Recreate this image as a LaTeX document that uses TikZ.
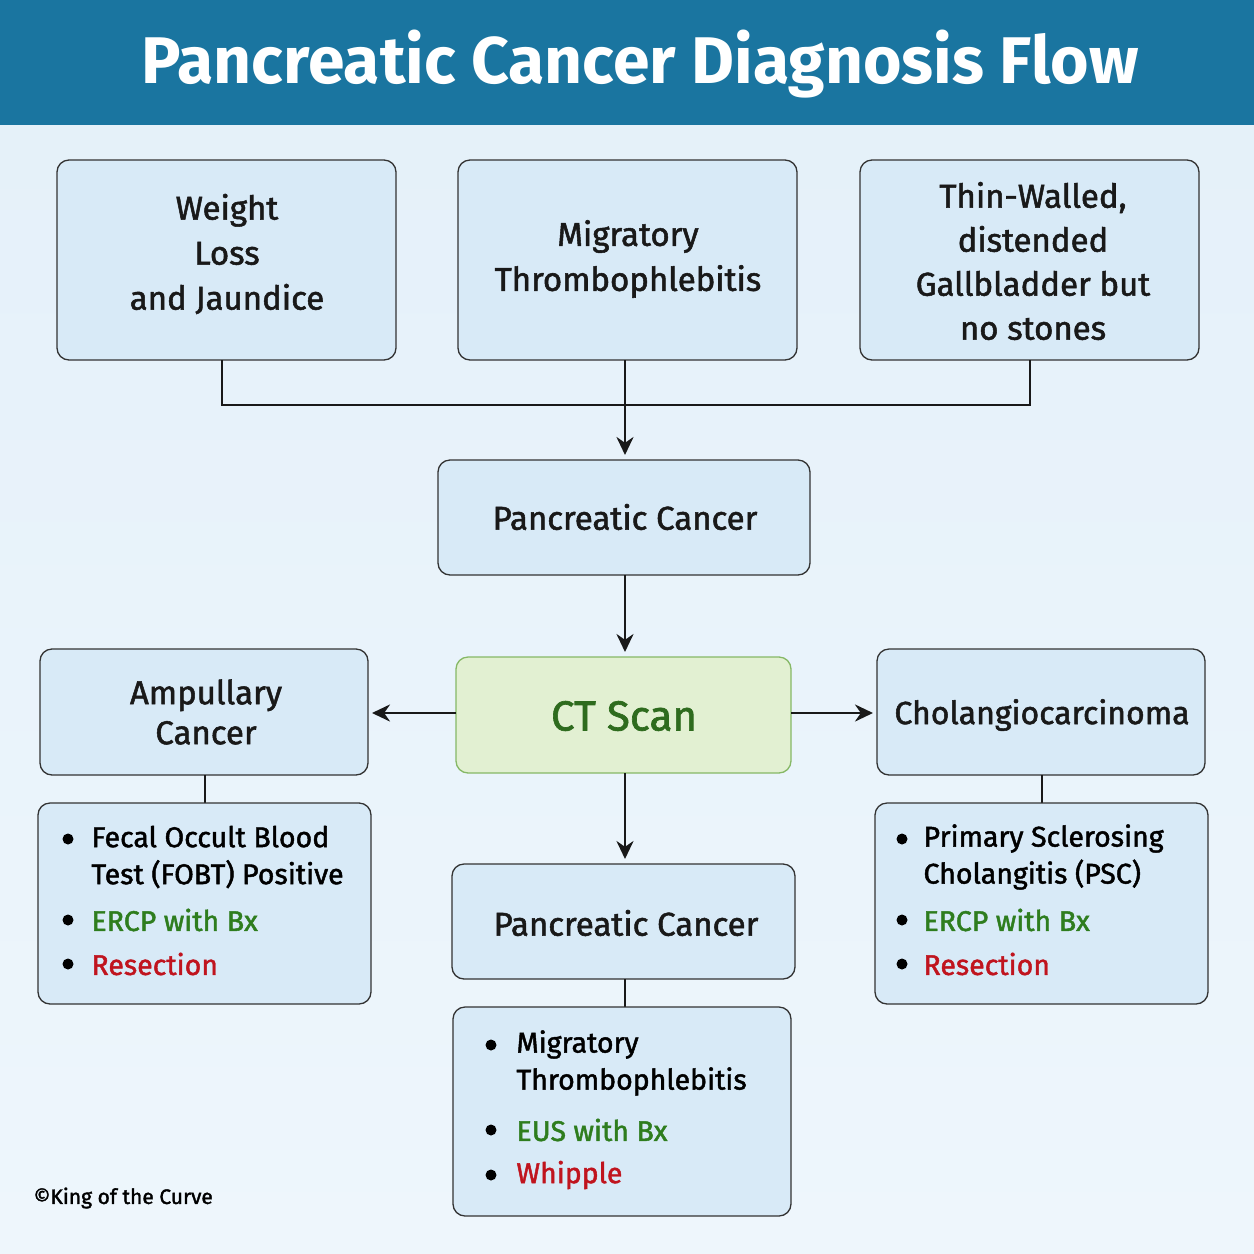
\documentclass[tikz,border=0pt]{standalone}
\usepackage{fontspec}
\setmainfont{Fira Sans}[UprightFeatures={FakeBold=1.6}]
\usetikzlibrary{arrows.meta}
\definecolor{bgA}{HTML}{E4F0F9}
\definecolor{bgB}{HTML}{EEF6FC}
\definecolor{bar}{HTML}{1A75A0}
\definecolor{boxf}{HTML}{D8EAF7}
\definecolor{ctf}{HTML}{E2F0D2}
\definecolor{ctb}{HTML}{86B866}
\definecolor{ctt}{HTML}{2E6B1E}
\definecolor{gtxt}{HTML}{2E7D1E}
\definecolor{rtxt}{HTML}{C0141E}
\begin{document}
\begin{tikzpicture}[x=1pt,y=-1pt,
  box/.style={draw=black!80,line width=1.3pt,fill=boxf,rounded corners=12pt},
  btxt/.style={align=center,font=\fontsize{33}{45}\selectfont,text=black!90},
  ltxt/.style={anchor=west,align=left,font=\fontsize{28.5}{37}\selectfont},
  conn/.style={line width=2.8pt,black!90},
  arr/.style={conn,-{Stealth[length=18pt,width=17pt]}}]
\useasboundingbox (0,0) rectangle (1254,1254);
\shade[top color=bgA,bottom color=bgB] (0,0) rectangle (1254,1254);
\fill[bar] (0,0) rectangle (1254,125);
\node[font=\fontsize{66}{76}\selectfont\bfseries,text=white] (title) at (640,64) {Pancreatic Cancer Diagnosis Flow};
% top boxes
\draw[box] (57,160) rectangle (396,360);
\node[btxt] (b1) at (227,254) {Weight\\Loss\\and Jaundice};
\draw[box] (458,160) rectangle (797,360);
\node[btxt] (b2) at (628,259) {Migratory\\Thrombophlebitis};
\draw[box] (860,160) rectangle (1199,360);
\node[btxt,font=\fontsize{33}{44}\selectfont] (b3) at (1033,261) {Thin-Walled,\\distended\\Gallbladder but\\no stones};
\coordinate (b1b) at (222,360); \coordinate (b2b) at (625,360); \coordinate (b3b) at (1030,360);
\coordinate (j1) at (222,405); \coordinate (j3) at (1030,405);
\draw[conn] (b1b) -- (j1) -- (j3) -- (b3b);
\coordinate (pct) at (625,455);
\draw[arr] (b2b) -- (pct);
% PC
\draw[box] (438,460) rectangle (810,575);
\node[btxt] (pc) at (625,517) {Pancreatic Cancer};
\coordinate (pcb) at (625,575); \coordinate (ctt0) at (625,652);
\draw[arr] (pcb) -- (ctt0);
% CT
\draw[draw=ctb,line width=1.3pt,fill=ctf,rounded corners=12pt] (456,657) rectangle (791,773);
\node[font=\fontsize{42}{50}\selectfont,text=ctt] (ct) at (624,716) {CT Scan};
% sides
\draw[box] (40,649) rectangle (368,775);
\node[btxt,font=\fontsize{33}{40}\selectfont] (amp) at (206,712) {Ampullary\\Cancer};
\draw[box] (877,649) rectangle (1205,775);
\node[btxt,font=\fontsize{32}{40}\selectfont] (cho) at (1042,715) {Cholangiocarcinoma};
\coordinate (ctl) at (456,713); \coordinate (ampr) at (372,713);
\coordinate (ctr) at (791,713); \coordinate (chol) at (873,713);
\draw[arr] (ctl) -- (ampr);
\draw[arr] (ctr) -- (chol);
% left list
\draw[conn] (205,775) -- (205,803);
\draw[box] (38,803) rectangle (371,1004);
\foreach \y in {839,920,964} \fill (68,\y) circle (5.5pt);
\node[ltxt] (l1) at (88,857) {Fecal Occult Blood\\Test (FOBT) Positive};
\node[ltxt,text=gtxt] (l2) at (88,920) {ERCP with Bx};
\node[ltxt,text=rtxt] (l3) at (88,964) {Resection};
% right list
\draw[conn] (1042,775) -- (1042,803);
\draw[box] (875,803) rectangle (1208,1004);
\foreach \y in {839,920,964} \fill (902,\y) circle (5.5pt);
\node[ltxt] (r1) at (920,857) {Primary Sclerosing\\Cholangitis (PSC)};
\node[ltxt,text=gtxt] (r2) at (920,920) {ERCP with Bx};
\node[ltxt,text=rtxt] (r3) at (920,964) {Resection};
% center
\coordinate (ctb0) at (625,773); \coordinate (pc2t) at (625,859);
\draw[arr] (ctb0) -- (pc2t);
\draw[box] (452,864) rectangle (795,979);
\node[btxt] (pc2) at (626,923) {Pancreatic Cancer};
\draw[conn] (625,979) -- (625,1007);
\draw[box] (453,1007) rectangle (791,1216);
\foreach \y in {1045,1130,1175} \fill (491,\y) circle (5.5pt);
\node[ltxt] (c1) at (513,1063) {Migratory\\Thrombophlebitis};
\node[ltxt,text=gtxt] (c2) at (513,1130) {EUS with Bx};
\node[ltxt,text=rtxt] (c3) at (513,1175) {Whipple};
\node[anchor=west,font=\fontsize{21}{24}\selectfont] (cp) at (30,1198) {©King of the Curve};
\end{tikzpicture}
\end{document}
